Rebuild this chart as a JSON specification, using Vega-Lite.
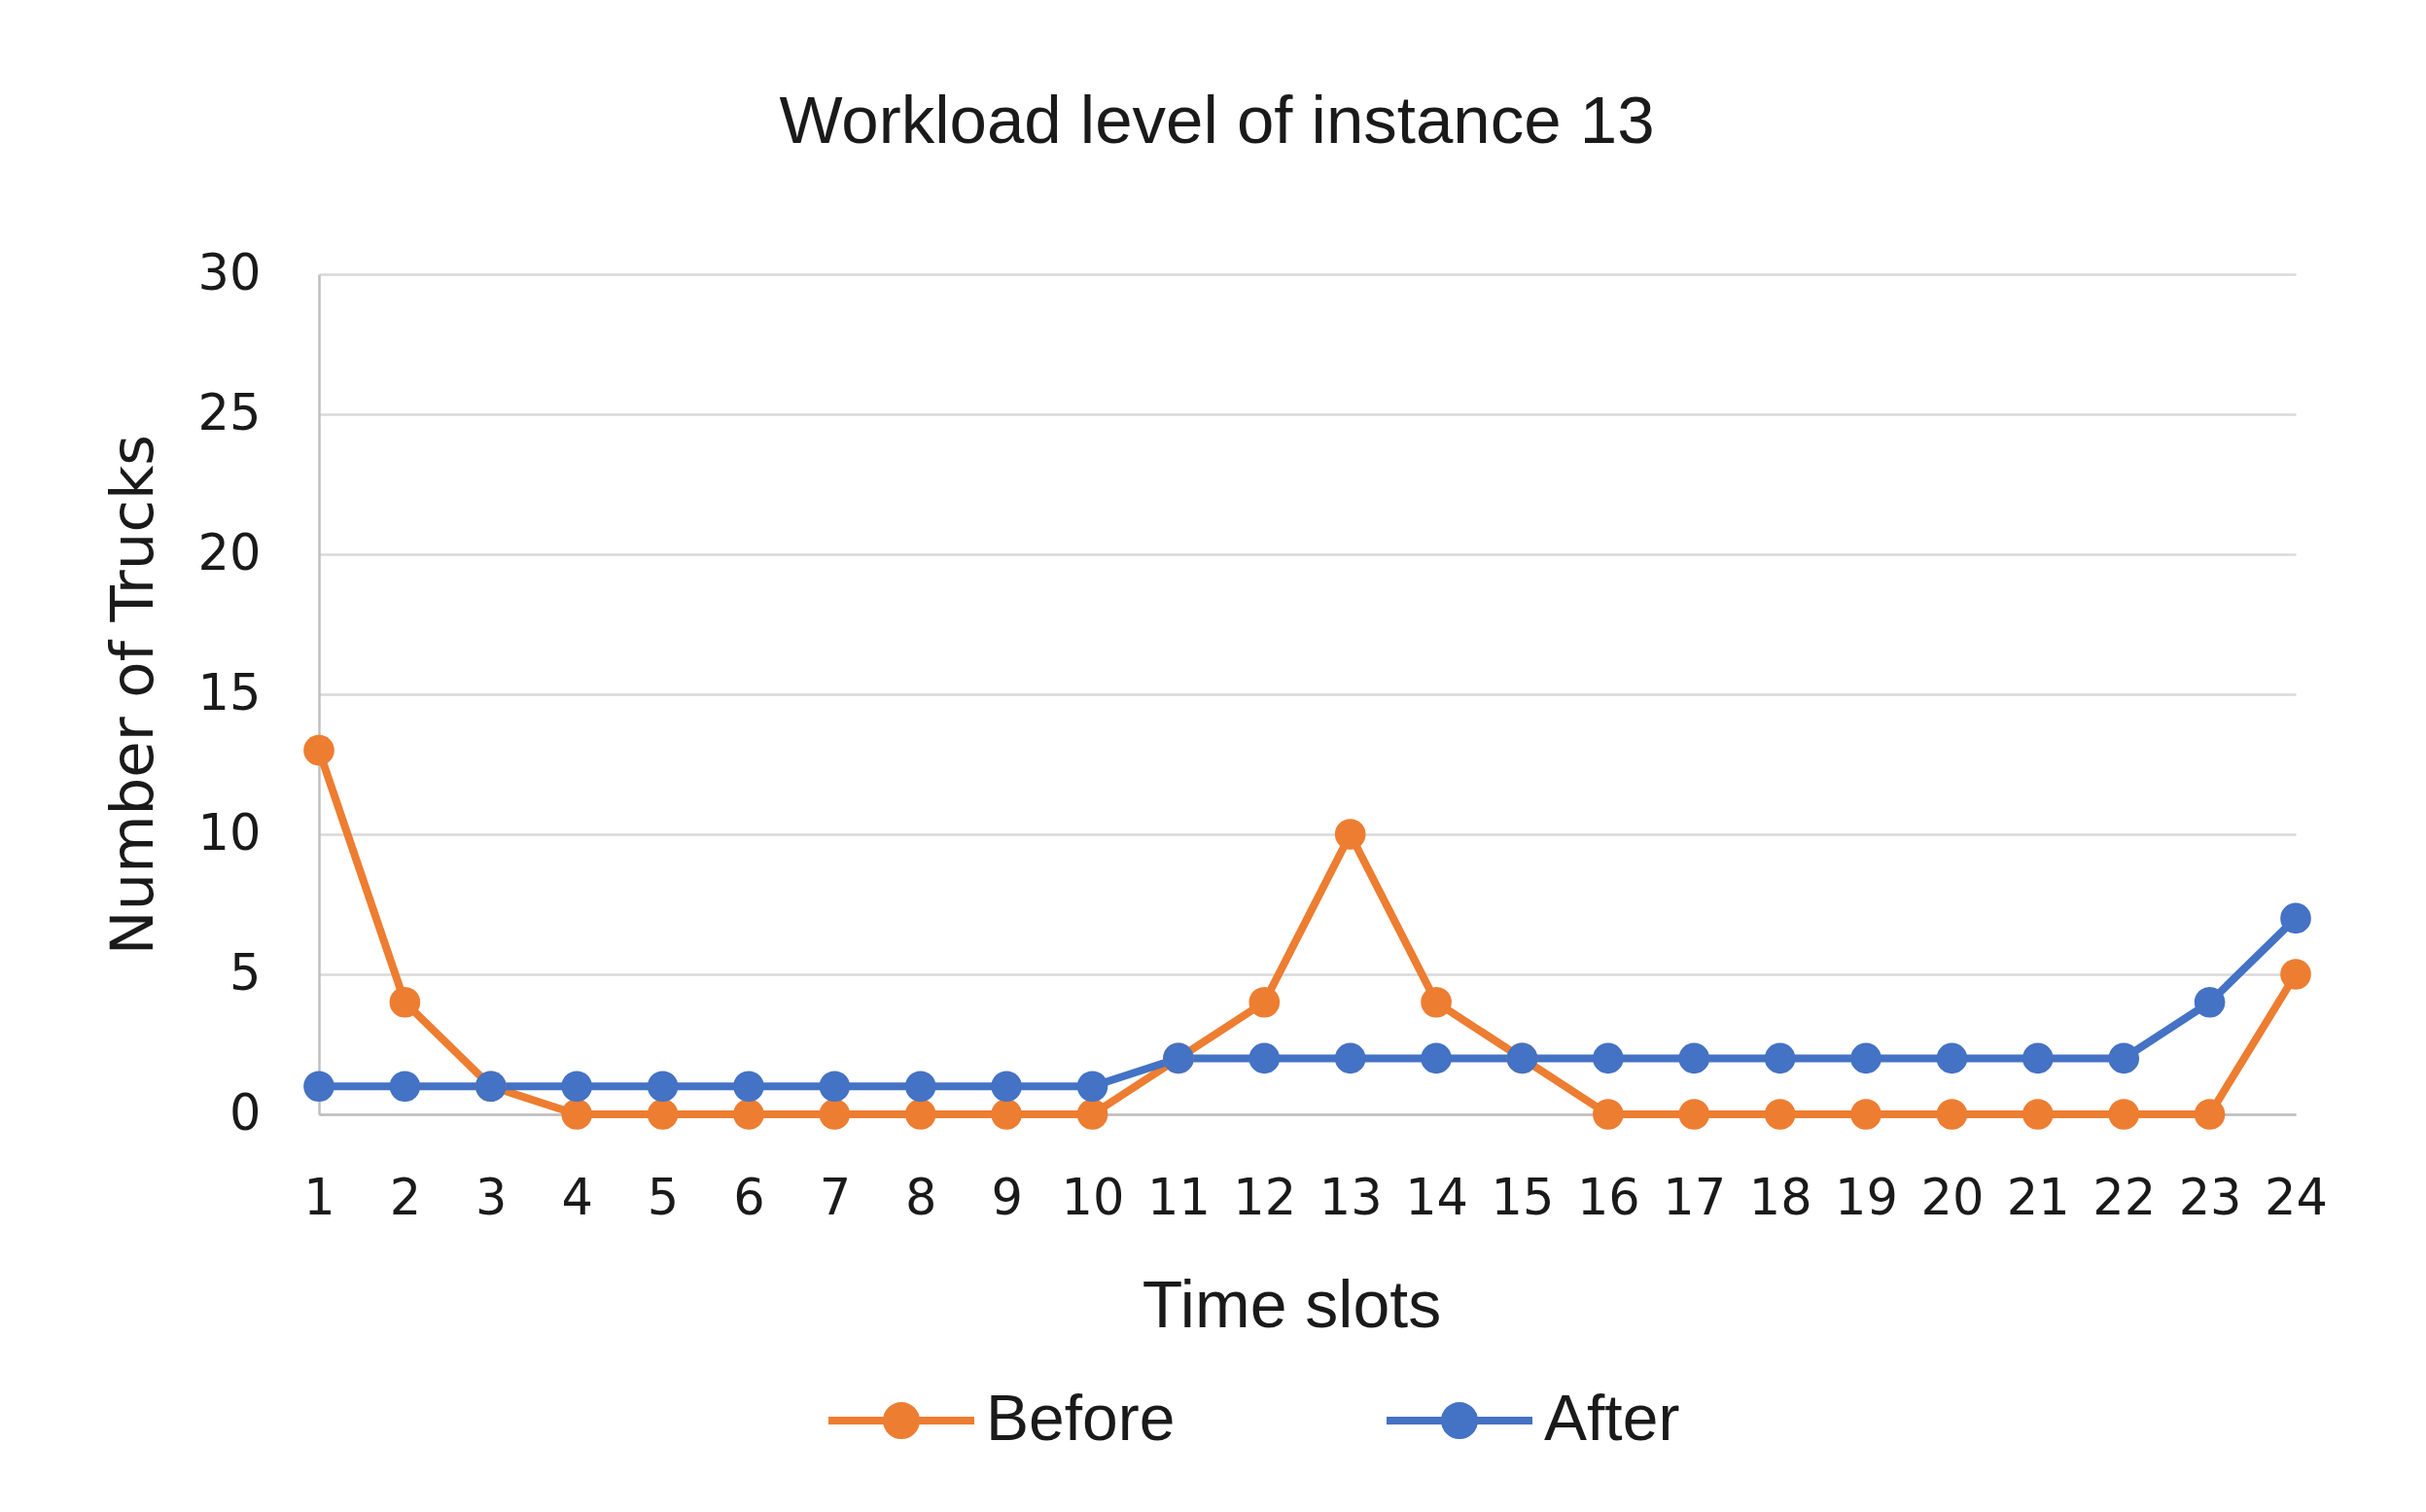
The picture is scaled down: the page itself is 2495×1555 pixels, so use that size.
{
  "$schema": "https://vega.github.io/schema/vega-lite/v6.json",
  "width": 2033,
  "height": 864,
  "autosize": {"type": "none"},
  "padding": {"left": 328, "top": 282, "right": 134, "bottom": 409},
  "background": "white",
  "title": {
    "text": "Workload level of instance 13",
    "font": "Liberation Sans",
    "fontSize": 69,
    "fontWeight": "normal",
    "color": "#1a1a1a",
    "anchor": "middle",
    "frame": "group",
    "dx": -93,
    "offset": 95
  },
  "data": {
    "values": [
      {"slot": 1, "series": "Before", "trucks": 13},
      {"slot": 2, "series": "Before", "trucks": 4},
      {"slot": 3, "series": "Before", "trucks": 1},
      {"slot": 4, "series": "Before", "trucks": 0},
      {"slot": 5, "series": "Before", "trucks": 0},
      {"slot": 6, "series": "Before", "trucks": 0},
      {"slot": 7, "series": "Before", "trucks": 0},
      {"slot": 8, "series": "Before", "trucks": 0},
      {"slot": 9, "series": "Before", "trucks": 0},
      {"slot": 10, "series": "Before", "trucks": 0},
      {"slot": 11, "series": "Before", "trucks": 2},
      {"slot": 12, "series": "Before", "trucks": 4},
      {"slot": 13, "series": "Before", "trucks": 10},
      {"slot": 14, "series": "Before", "trucks": 4},
      {"slot": 15, "series": "Before", "trucks": 2},
      {"slot": 16, "series": "Before", "trucks": 0},
      {"slot": 17, "series": "Before", "trucks": 0},
      {"slot": 18, "series": "Before", "trucks": 0},
      {"slot": 19, "series": "Before", "trucks": 0},
      {"slot": 20, "series": "Before", "trucks": 0},
      {"slot": 21, "series": "Before", "trucks": 0},
      {"slot": 22, "series": "Before", "trucks": 0},
      {"slot": 23, "series": "Before", "trucks": 0},
      {"slot": 24, "series": "Before", "trucks": 5},
      {"slot": 1, "series": "After", "trucks": 1},
      {"slot": 2, "series": "After", "trucks": 1},
      {"slot": 3, "series": "After", "trucks": 1},
      {"slot": 4, "series": "After", "trucks": 1},
      {"slot": 5, "series": "After", "trucks": 1},
      {"slot": 6, "series": "After", "trucks": 1},
      {"slot": 7, "series": "After", "trucks": 1},
      {"slot": 8, "series": "After", "trucks": 1},
      {"slot": 9, "series": "After", "trucks": 1},
      {"slot": 10, "series": "After", "trucks": 1},
      {"slot": 11, "series": "After", "trucks": 2},
      {"slot": 12, "series": "After", "trucks": 2},
      {"slot": 13, "series": "After", "trucks": 2},
      {"slot": 14, "series": "After", "trucks": 2},
      {"slot": 15, "series": "After", "trucks": 2},
      {"slot": 16, "series": "After", "trucks": 2},
      {"slot": 17, "series": "After", "trucks": 2},
      {"slot": 18, "series": "After", "trucks": 2},
      {"slot": 19, "series": "After", "trucks": 2},
      {"slot": 20, "series": "After", "trucks": 2},
      {"slot": 21, "series": "After", "trucks": 2},
      {"slot": 22, "series": "After", "trucks": 2},
      {"slot": 23, "series": "After", "trucks": 4},
      {"slot": 24, "series": "After", "trucks": 7}
    ]
  },
  "encoding": {
    "x": {
      "field": "slot",
      "type": "quantitative",
      "scale": {"domain": [1, 24], "nice": false, "zero": false},
      "axis": {
        "title": "Time slots",
        "values": [1,2,3,4,5,6,7,8,9,10,11,12,13,14,15,16,17,18,19,20,21,22,23,24],
        "format": "d",
        "grid": false,
        "ticks": false,
        "domain": true,
        "domainColor": "#BFBFBF",
        "domainWidth": 2.5,
        "labelFont": "DejaVu Sans",
        "labelFontSize": 51,
        "labelColor": "#1a1a1a",
        "labelPadding": 62,
        "labelFlush": false,
        "labelOverlap": false,
        "titleFont": "Liberation Sans",
        "titleFontSize": 68,
        "titleFontWeight": "normal",
        "titleColor": "#1a1a1a",
        "titlePadding": 52,
        "titleX": 1000
      }
    },
    "y": {
      "field": "trucks",
      "type": "quantitative",
      "scale": {"domain": [0, 30], "nice": false},
      "axis": {
        "title": "Number of Trucks",
        "values": [0, 5, 10, 15, 20, 25, 30],
        "grid": true,
        "gridColor": "#D9D9D9",
        "gridWidth": 2.5,
        "ticks": false,
        "domain": true,
        "domainColor": "#BFBFBF",
        "domainWidth": 2.5,
        "labelFont": "DejaVu Sans",
        "labelFontSize": 51,
        "labelColor": "#1a1a1a",
        "labelPadding": 60,
        "titleFont": "DejaVu Sans",
        "titleFontSize": 61,
        "titleFontWeight": "normal",
        "titleColor": "#1a1a1a",
        "titlePadding": 34
      }
    },
    "color": {
      "field": "series",
      "type": "nominal",
      "scale": {"domain": ["Before", "After"], "range": ["#ED7D31", "#4472C4"]},
      "legend": {
        "title": null,
        "orient": "none",
        "direction": "horizontal",
        "legendX": 520,
        "legendY": 1100,
        "padding": 0,
        "symbolType": "M-1,0H1M0.2,0A0.2,0.2,0,1,1,-0.2,0A0.2,0.2,0,1,1,0.2,0Z",
        "symbolSize": 22500,
        "symbolStrokeWidth": 8,
        "labelFont": "Liberation Sans",
        "labelFontSize": 66,
        "labelLimit": 500,
        "labelColor": "#1a1a1a",
        "labelOffset": 8,
        "columnPadding": 201,
        "encode": {
          "symbols": {
            "update": {
              "fill": {"scale": "color", "field": "value"},
              "stroke": {"scale": "color", "field": "value"},
              "opacity": {"value": 1}
            }
          }
        }
      }
    }
  },
  "layer": [
    {"mark": {"type": "line", "strokeWidth": 8}},
    {"mark": {"type": "point", "shape": "circle", "filled": true, "size": 1000, "opacity": 1}}
  ],
  "config": {
    "view": {"stroke": null}
  }
}
